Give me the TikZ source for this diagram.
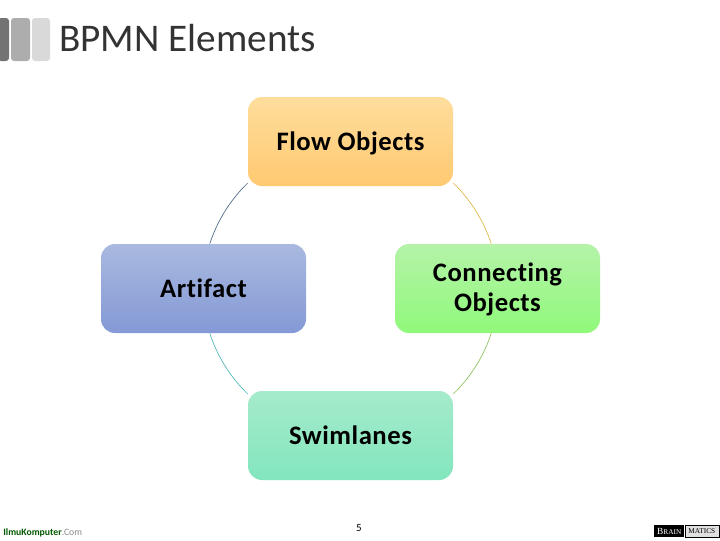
\documentclass[tikz,border=0pt]{standalone}
\usepackage{fontspec}
\setmainfont[Ligatures=CommonOff]{Carlito}
\newfontfamily\serifsc{Liberation Serif}
\definecolor{titlegray}{HTML}{333333}
\definecolor{ftop}{HTML}{FEDD9C}\definecolor{fbot}{HTML}{FFC971}
\definecolor{ctop}{HTML}{B5F3A9}\definecolor{cbot}{HTML}{90F97A}
\definecolor{atop}{HTML}{A9B9DF}\definecolor{abot}{HTML}{8499D6}
\definecolor{stop}{HTML}{A6EBCB}\definecolor{sbot}{HTML}{82E6BD}
\definecolor{ringa}{HTML}{4F6A8A}\definecolor{ringb}{HTML}{DDB64A}
\definecolor{ringc}{HTML}{8CC45C}\definecolor{ringd}{HTML}{50B8B4}
\tikzset{
  x=0.75pt,y=-0.75pt,
  item/.style={minimum width=153.75pt,minimum height=66.75pt,inner sep=0pt,rounded corners=10.5pt,
    align=center,font=\fontsize{20pt}{22.5pt}\selectfont\bfseries\addfontfeature{LetterSpace=2},text=black},
  ring/.style={line width=0.5pt,looseness=0.86},
  bar/.style={rounded corners=2.25pt,inner sep=0pt}
}
\begin{document}
\begin{tikzpicture}
\useasboundingbox (0,0) rectangle (720,540);
\fill[white] (0,0) rectangle (720,540);
% title bars
\node[bar,fill=black!55,minimum width=8.25pt,minimum height=32.25pt] (bara) at (3.5,39.5) {};
\node[bar,fill=black!32,minimum width=14.25pt,minimum height=32.25pt] (barb) at (20.5,39.5) {};
\node[bar,fill=black!15,minimum width=13.5pt,minimum height=32.25pt] (barc) at (41,39.5) {};
\node[anchor=base west,inner sep=0pt,font=\fontsize{29.4pt}{30pt}\selectfont,text=titlegray] (title) at (59,51) {BPMN Elements};
% boxes
\node[item,top color=ftop,bottom color=fbot,text depth=0pt] (flow) at (350.5,141.5) {Flow Objects};
\node[item,top color=ctop,bottom color=cbot] (conn) at (497.5,288.5) {\raisebox{-1.5pt}[\height][\depth]{\begin{tabular}{@{}c@{}}Connecting\\Objects\end{tabular}}};
\node[item,top color=atop,bottom color=abot] (art) at (203.5,288.5) {Artifact};
\node[item,top color=stop,bottom color=sbot] (swim) at (350.5,435.5) {Swimlanes};
% ring
\draw[ring,color=ringa] (flow.202) to[bend right=14] (art.82);
\draw[ring,color=ringb] (flow.-22) to[bend left=14] (conn.98);
\draw[ring,color=ringc] (conn.-98) to[bend left=14] (swim.22);
\draw[ring,color=ringd] (art.-82) to[bend right=14] (swim.158);
% footer
\node[inner sep=0pt,font=\fontsize{8.25pt}{10pt}\selectfont] (page) at (359,528) {5};
\node[anchor=west,inner sep=0pt,font=\fontsize{7.3pt}{8pt}\selectfont] (ilmu) at (3,533) {\textcolor{green!35!black}{\textbf{IlmuKomputer}}\textcolor{black!45}{.Com}};
\node[anchor=west,fill=black,text=white,minimum height=9pt,minimum width=22.5pt,inner sep=0pt,font=\fontsize{7pt}{8pt}\serifsc] (brain) at (654,531) {B\fontsize{5.5pt}{8pt}\selectfont RAIN};
\node[anchor=west,draw=black,line width=0.4pt,fill=black!12,minimum height=9pt,minimum width=25.5pt,inner sep=0pt,font=\fontsize{5.5pt}{8pt}\serifsc] (mat) at (brain.east) {MATICS};
\end{tikzpicture}
\end{document}
